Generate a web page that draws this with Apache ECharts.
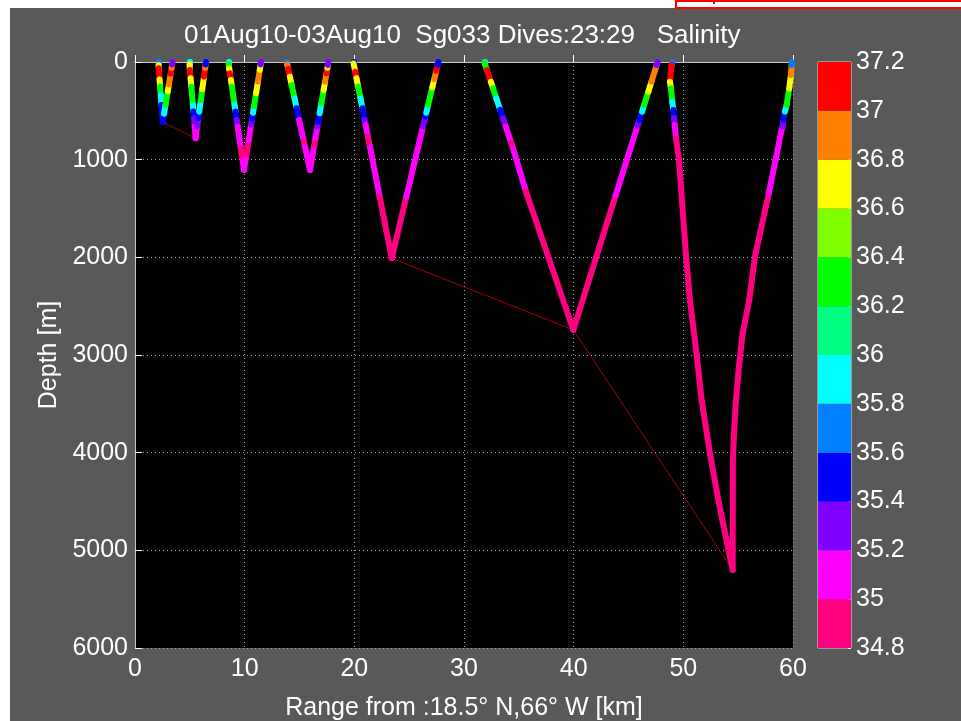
<!DOCTYPE html>
<html>
  <head>
    <meta charset="utf-8">
    <title>Sg033 Salinity</title>
    <script src="https://cdn.jsdelivr.net/npm/echarts@6/dist/echarts.min.js"></script>
  </head>
  <body style="margin:0">
    <div id="main" style="width: 961px; height: 721px"></div>
    <script type="text/javascript">
      // each dive: [range km, depth m, salinity] read where the colour changes
      var dive23Down = [[2.13,0,35.7],[2.15,30,36.7],[2.17,65,37.1],[2.24,180,36.7],[2.29,250,36.3],[2.35,340,35.9],[2.41,440,35.5],[2.49,570,35.3],[2.52,615,35.3]]
      var dive23Up = [[2.52,615,35.5],[2.65,530,35.9],[2.78,440,36.3],[2.99,300,36.7],[3.09,230,36.9],[3.25,120,37.1],[3.34,60,36.8],[3.39,25,35.3],[3.43,0,35.3]]
      var dive24Down = [[4.95,0,35.8],[4.97,25,36.6],[5.01,82,37.1],[5.07,167,36.7],[5.14,253,36.3],[5.28,440,35.9],[5.33,508,35.5],[5.38,577,35.3],[5.44,662,35.1],[5.53,781,35.1]]
      var dive24Up = [[5.53,781,35.1],[5.67,662,35.3],[5.78,577,35.5],[5.86,508,35.9],[6.0,390,36.3],[6.13,280,36.7],[6.29,150,37.0],[6.4,60,36.8],[6.44,25,35.4],[6.47,0,35.4]]
      var dive25Down = [[8.51,0,35.8],[8.54,23,36.3],[8.59,65,36.7],[8.66,116,37.0],[8.75,184,36.7],[8.84,253,36.3],[9.08,440,35.9],[9.17,508,35.5],[9.28,594,35.3],[9.37,662,35.1],[9.65,884,34.9],[9.83,1020,35.1],[9.94,1106,35.1]]
      var dive25Up = [[9.94,1106,35.1],[10.16,950,34.9],[10.37,800,35.1],[10.59,640,35.3],[10.68,580,35.5],[10.76,520,35.9],[10.86,450,36.3],[11.04,320,36.7],[11.21,200,36.9],[11.38,80,36.6],[11.46,25,35.3],[11.49,0,35.3]]
      var dive26Down = [[13.83,0,35.7],[13.87,23,36.8],[13.97,70,37.0],[14.12,150,36.7],[14.28,235,36.3],[14.55,372,35.9],[14.74,474,35.5],[14.97,594,35.1],[15.4,816,34.9],[15.5,867,35.1],[15.96,1106,35.1]]
      var dive26Up = [[15.96,1106,35.1],[16.35,850,34.9],[16.45,781,35.1],[16.63,662,35.3],[16.71,611,35.5],[16.84,525,35.9],[16.99,423,36.3],[17.2,287,36.7],[17.33,202,36.9],[17.46,116,37.0],[17.55,60,36.7],[17.58,31,35.3],[17.63,0,35.3]]
      var dive27Down = [[19.91,0,35.5],[19.93,15,36.7],[20.08,99,37.1],[20.2,167,36.7],[20.35,253,36.3],[20.56,372,35.9],[20.74,474,35.5],[20.94,594,35.3],[21.03,645,35.1],[21.24,765,34.9],[21.42,867,35.1],[22.31,1379,34.9],[23.41,2010,34.9]]
      var dive27Up = [[23.41,2010,34.9],[24.74,1379,35.1],[26.26,662,35.3],[26.48,560,35.5],[26.56,520,35.9],[26.73,440,36.3],[27.11,260,36.7],[27.29,175,36.9],[27.47,90,37.0],[27.6,30,35.4],[27.66,0,35.4]]
      var dive28Down = [[31.85,0,35.8],[31.87,10,36.3],[32.09,82,37.0],[32.45,202,36.7],[32.65,270,36.3],[32.95,372,35.9],[33.3,491,35.5],[33.56,577,35.3],[33.81,662,35.1],[34.32,833,34.9],[34.47,884,35.1],[35.65,1328,34.9],[39.97,2743,34.9]]
      var dive28Up = [[39.97,2743,34.9],[43.84,1362,35.1],[45.83,652,35.3],[45.99,594,35.5],[46.24,508,35.9],[46.43,440,36.3],[46.81,304,36.7],[47.09,202,36.9],[47.57,31,35.3],[47.66,0,35.3]]
      var dive29Down = [[49.03,0,35.6],[48.93,31,37.0],[48.78,202,36.7],[48.87,270,36.3],[48.99,406,35.9],[49.09,491,35.5],[49.15,577,35.3],[49.21,645,35.1],[49.33,781,34.9],[49.6,1000,34.9],[50.25,1993,34.9],[50.6,2437,34.9],[51.2,2983,34.9],[51.67,3461,34.9],[52.43,4007,34.9],[53.19,4484,34.9],[53.8,4825,34.9],[54.5,5201,34.9]]
      var dive29Up = [[54.5,5201,34.9],[54.52,4075,34.9],[54.62,3802,34.9],[54.8,3461,34.9],[55.07,3119,34.9],[55.41,2778,34.9],[56.01,2437,34.9],[56.53,1993,34.9],[57.8,1340,35.1],[58.42,1000,35.1],[58.9,727,35.1],[59.05,660,35.3],[59.12,590,35.5],[59.27,508,35.9],[59.42,440,36.3],[59.66,270,36.7],[59.81,133,36.9],[59.88,30,35.7],[59.91,0,35.7]]

      // thin red track joining some of the dive bottoms
      var bottomTrackA = [[2.52,615],[5.53,781]]
      var bottomTrackB = [[23.41,2010],[39.97,2743],[54.5,5201]]

      var salinityMin = 34.8
      var salinityStep = 0.2
      // colour bar, bottom to top
      var salinityColors = ['#ff0080','#ff00ff','#8000ff','#0000ff','#0080ff','#00ffff','#00ff80','#00ff00','#80ff00','#ffff00','#ff8000','#ff0000']

      var fontName = 'Liberation Sans'

      function colorOf(s){
        var i = Math.floor((s - salinityMin) / salinityStep + 1e-6)
        if (i < 0) i = 0
        if (i > salinityColors.length - 1) i = salinityColors.length - 1
        return salinityColors[i]
      }

      var dives = [dive23Down, dive23Up, dive24Down, dive24Up, dive25Down, dive25Up, dive26Down, dive26Up,
                   dive27Down, dive27Up, dive28Down, dive28Up, dive29Down, dive29Up]
      var segs = []
      for (var d = 0; d < dives.length; d++){
        var t = dives[d]
        for (var i = 0; i < t.length - 1; i++){
          segs.push({
            coords: [[t[i][0], t[i][1]], [t[i+1][0], t[i+1][1]]],
            lineStyle: {color: colorOf(t[i][2])}
          })
        }
      }

      var series = [
        {type: 'line', data: bottomTrackA, symbol: 'none', lineStyle: {color: '#a00000', width: 1}, silent: true, z: 2},
        {type: 'line', data: bottomTrackB, symbol: 'none', lineStyle: {color: '#a00000', width: 1}, silent: true, z: 2},
        {type: 'lines', coordinateSystem: 'cartesian2d', data: segs, polyline: false, silent: true, z: 3,
         lineStyle: {width: 6, opacity: 1, cap: 'round'}}
      ]

      // colour bar made from stacked bars
      series.push({type: 'bar', xAxisIndex: 1, yAxisIndex: 1, stack: 'cb', data: [salinityMin], barWidth: '100%',
                   itemStyle: {color: 'rgba(0,0,0,0)'}, silent: true})
      for (var k = 0; k < salinityColors.length; k++){
        series.push({type: 'bar', xAxisIndex: 1, yAxisIndex: 1, stack: 'cb', data: [salinityStep], barWidth: '100%',
                     itemStyle: {color: salinityColors[k]}, silent: true})
      }

      var myChart = echarts.init(document.getElementById('main'))

      var labelStyle = {color: '#ffffff', fontSize: 25, fontFamily: fontName}

      var option = {
        backgroundColor: '#ffffff',
        animation: false,
        title: {
          text: '01Aug10-03Aug10  Sg033 Dives:23:29   Salinity',
          left: 179, top: 18,
          textStyle: {color: '#ffffff', fontSize: 26, fontWeight: 'normal', fontFamily: fontName}
        },
        graphic: [
          {type: 'rect', left: 10, top: 8, shape: {width: 951, height: 713}, style: {fill: '#595959'}, z: -10},
          {type: 'rect', left: 675, top: 0, shape: {width: 290, height: 7}, style: {fill: '#ffffff', stroke: '#ff0000', lineWidth: 2}, z: -9},
          {type: 'rect', left: 713, top: 0, shape: {width: 2, height: 4}, style: {fill: '#ff0000'}, z: -8}
        ],
        grid: [
          {left: 135, top: 62, width: 658, height: 586, show: true, backgroundColor: '#000000', borderWidth: 0,
           outerBoundsMode: 'none'},
          {left: 818, top: 62, width: 33, height: 586, show: true, borderColor: '#dddddd', borderWidth: 1,
           outerBoundsMode: 'none'}
        ],
        xAxis: [
          {
            type: 'value', min: 0, max: 60, interval: 10, gridIndex: 0,
            name: 'Range from :18.5\u00b0 N,66\u00b0 W [km]', nameLocation: 'middle', nameGap: 48,
            nameTextStyle: labelStyle,
            axisLine: {show: true, lineStyle: {color: '#c8c8c8'}},
            axisTick: {show: true, inside: true, length: 7, lineStyle: {color: '#ffffff'}},
            axisLabel: {color: '#ffffff', fontSize: 25, fontFamily: fontName, margin: 9},
            splitLine: {show: true, lineStyle: {color: '#a0a0a0', type: [1, 3]}}
          },
          {type: 'category', gridIndex: 1, data: ['s'], show: false}
        ],
        yAxis: [
          {
            type: 'value', min: 0, max: 6000, interval: 1000, inverse: true, gridIndex: 0,
            name: 'Depth [m]', nameLocation: 'middle', nameGap: 70,
            nameTextStyle: labelStyle,
            axisLine: {show: true, lineStyle: {color: '#c8c8c8'}},
            axisTick: {show: true, inside: true, length: 7, lineStyle: {color: '#ffffff'}},
            axisLabel: {color: '#ffffff', fontSize: 25, fontFamily: fontName, margin: 7,
                        formatter: function(v){ return String(v) }},
            splitLine: {show: true, lineStyle: {color: '#a0a0a0', type: [1, 3]}}
          },
          {
            type: 'value', gridIndex: 1, position: 'right', min: 34.8, max: 37.2, interval: 0.2,
            axisLine: {show: false},
            axisTick: {show: true, inside: true, length: 3, lineStyle: {color: '#ffffff'}},
            axisLabel: {color: '#ffffff', fontSize: 25, fontFamily: fontName, margin: 5,
                        formatter: function(v){ return String(Math.round(v * 10) / 10) }},
            splitLine: {show: false}
          }
        ],
        series: series
      }

      myChart.setOption(option)
    </script>
  </body>
</html>
